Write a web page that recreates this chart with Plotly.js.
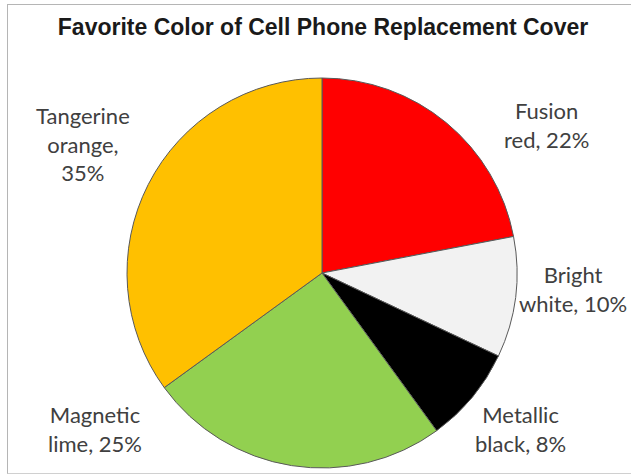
<!DOCTYPE html>
<html>
<head>
<meta charset="utf-8">
<script src="https://cdn.plot.ly/plotly-3.0.1.min.js"></script>
<style>
  html, body { margin: 0; padding: 0; background: #ffffff; }
  #wrap { position: relative; width: 631px; height: 475px; overflow: hidden; }
  #chart { position: absolute; left: 0; top: 0; width: 631px; height: 475px; }
  #frame { position: absolute; left: 7px; top: 4px; width: 640px; height: 468px;
           border-top: 1px solid #b5b5b5; border-left: 1px solid #b5b5b5; border-bottom: 1px solid #d0d0d0;
           pointer-events: none; }
</style>
</head>
<body>
<div id="wrap">
  <div id="chart"></div>
  <div id="frame"></div>
</div>
<script>
// ---- data ----
const categories = ["Fusion red", "Bright white", "Metallic black", "Magnetic lime", "Tangerine orange"];
const labelLine1 = ["Fusion", "Bright", "Metallic", "Magnetic", "Tangerine"];
const labelLine2 = ["red", "white", "black", "lime", "orange"];
const percents = [22, 10, 8, 25, 35];
const sliceColors = ["#FF0000", "#F2F2F2", "#000000", "#92D050", "#FFC000"];
const chartTitle = "Favorite Color of Cell Phone Replacement Cover";

// ---- layout helpers (label placement, in pixels of the 631x475 page) ----
const W = 631, H = 475;
const cx = 322, cy = 273, R = 195;
const labelPx = [[546, 125], [573, 289], [520, 429], [95, 429], [83, 144]];

const annotations = categories.map(function (c, i) {
  var txt = (i === 4)
    ? labelLine1[i] + "<br>" + labelLine2[i] + ",<br>" + percents[i] + "%"
    : labelLine1[i] + "<br>" + labelLine2[i] + ", " + percents[i] + "%";
  return {
    text: txt,
    xref: "paper", yref: "paper",
    x: labelPx[i][0] / W, y: 1 - labelPx[i][1] / H,
    xanchor: "center", yanchor: "middle",
    showarrow: false, align: "center",
    font: { family: "Lato, 'Open Sans', sans-serif", size: 22, color: "#404040" }
  };
});

const trace = {
  type: "pie",
  labels: categories,
  values: percents,
  sort: false,
  direction: "clockwise",
  rotation: 0,
  marker: { colors: sliceColors, line: { color: "#595959", width: 1 } },
  textinfo: "none",
  hoverinfo: "label+percent",
  showlegend: false,
  domain: { x: [(cx - R) / W, (cx + R) / W], y: [(H - cy - R) / H, (H - cy + R) / H] }
};

const layout = {
  width: W, height: H,
  margin: { l: 0, r: 0, t: 0, b: 0 },
  paper_bgcolor: "#ffffff",
  plot_bgcolor: "#ffffff",
  showlegend: false,
  title: {
    text: "<b>" + chartTitle + "</b>",
    x: 323 / W, xanchor: "center",
    y: 1 - 27 / H, yanchor: "middle",
    xref: "paper", yref: "container",
    font: { family: "'Liberation Sans', Arial, sans-serif", size: 23, color: "#1a1a1a" }
  },
  annotations: annotations
};

Plotly.newPlot("chart", [trace], layout, { displayModeBar: false, staticPlot: true });
</script>
</body>
</html>
